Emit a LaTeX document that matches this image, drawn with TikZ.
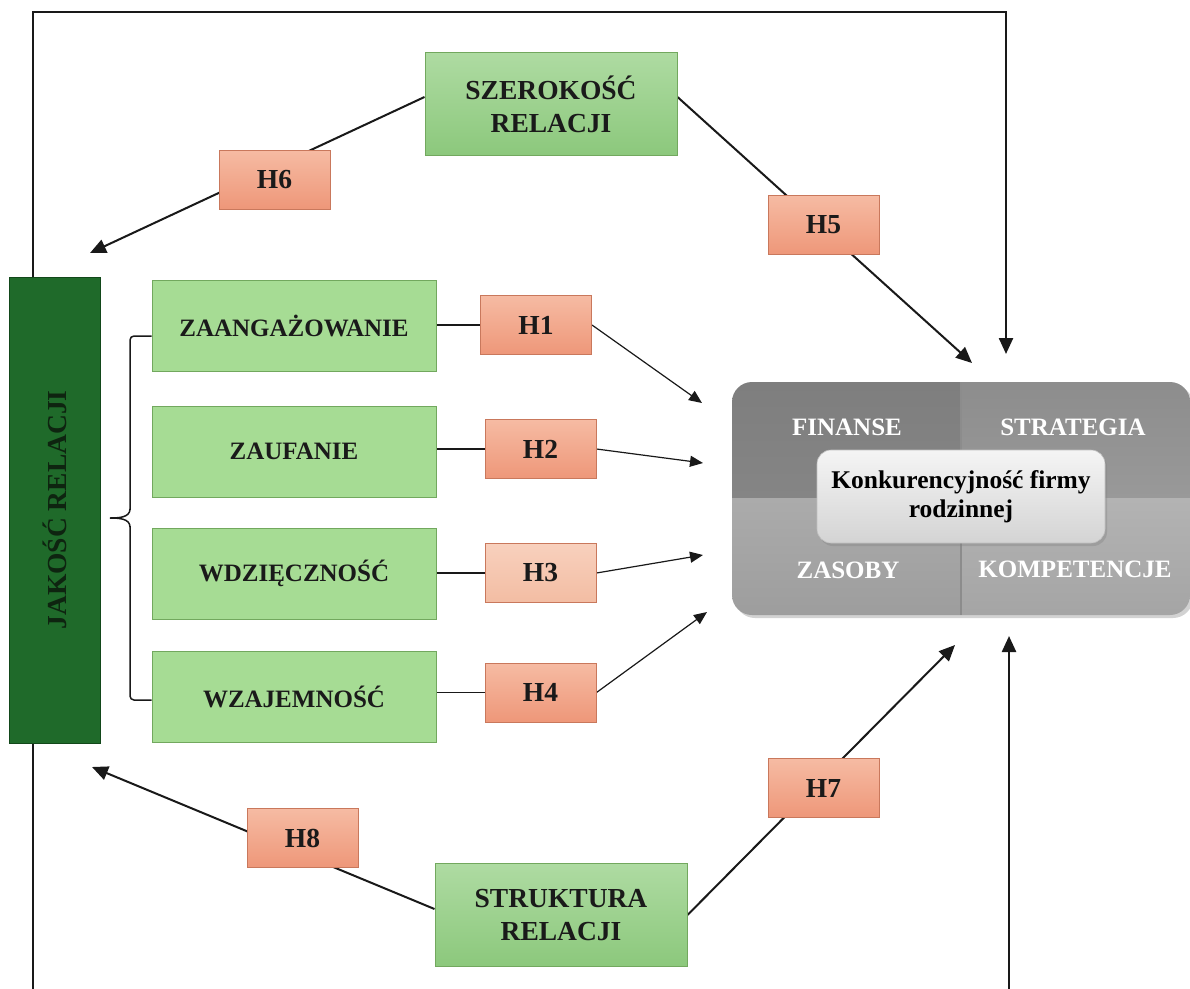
\documentclass[tikz,border=0pt]{standalone}
\usepackage{fontspec}
\setmainfont{Liberation Serif}
\usetikzlibrary{arrows.meta,shadows,calc}
\pgfdeclarelayer{background}
\pgfdeclarelayer{canvas}
\pgfsetlayers{canvas,background,main}

\definecolor{lgfill}{HTML}{A6DC94}
\definecolor{lgline}{HTML}{72A85E}
\definecolor{mgtop}{HTML}{AEDBA2}
\definecolor{mgbot}{HTML}{8CC87C}
\definecolor{dkfill}{HTML}{1F6A2A}
\definecolor{dkline}{HTML}{12481A}
\definecolor{dktext}{HTML}{0E2410}
\definecolor{htop}{HTML}{F6BBA3}
\definecolor{hbot}{HTML}{EE9779}
\definecolor{hline}{HTML}{C9785C}
\definecolor{hlighttop}{HTML}{F8D0BD}
\definecolor{hlightbot}{HTML}{F3BDA3}
\definecolor{txt}{HTML}{1A1A1A}
\definecolor{qa}{HTML}{8C8C8C}
\definecolor{qb}{HTML}{999999}
\definecolor{qc}{HTML}{ABABAB}
\definecolor{qd}{HTML}{B3B3B3}

\tikzset{
  x=1pt, y=-1pt,
  factor/.style={draw=lgline, fill=lgfill, line width=1pt,
    minimum width=284pt, minimum height=91pt, inner sep=0pt,
    font=\fontsize{25}{28}\selectfont\bfseries, text=txt},
  dimbox/.style={draw=lgline, top color=mgtop, bottom color=mgbot, line width=1pt,
    minimum width=252pt, minimum height=103pt, inner sep=0pt, align=center,
    font=\fontsize{27.5}{33}\selectfont\bfseries, text=txt},
  hyp/.style={draw=hline, top color=htop, bottom color=hbot, line width=1pt,
    minimum width=111pt, minimum height=59pt, inner sep=0pt,
    font=\fontsize{27.5}{30}\selectfont\bfseries, text=txt},
  hyplight/.style={hyp, top color=hlighttop, bottom color=hlightbot},
  quadlabel/.style={font=\fontsize{25}{28}\selectfont\bfseries, text=white},
  frameline/.style={line width=2.4pt, draw=black!90},
  bigarrow/.style={line width=2pt, draw=black!90,
    -{Triangle[length=16pt,width=14pt]}},
  smallarrow/.style={line width=1.2pt, draw=black!90,
    -{Triangle[length=13pt,width=11pt]}},
  link/.style={line width=1.5pt, draw=black!90},
}

\begin{document}
\begin{tikzpicture}
  \begin{pgfonlayer}{canvas}
    \fill[white] (0,0) rectangle (1190,988);
  \end{pgfonlayer}
  \useasboundingbox (0,0) rectangle (1190,988);

  % quality of relationship (vertical bar)
  \node[draw=dkline, fill=dkfill, line width=1pt, rotate=90,
        minimum width=466pt, minimum height=91pt, inner sep=0pt,
        font=\fontsize{27.5}{30}\selectfont\bfseries, text=dktext]
        (jak) at (54.5,510) {JAKOŚĆ RELACJI};

  % four dimensions of quality
  \node[factor] (z1) at (294,325.5) {ZAANGAŻOWANIE};
  \node[factor] (z2) at (294,451.5) {ZAUFANIE};
  \node[factor] (z3) at (294,573.5) {WDZIĘCZNOŚĆ};
  \node[factor] (z4) at (294,696.5) {WZAJEMNOŚĆ};

  % hypotheses
  \node[hyp] (h1) at (536,325) {H1};
  \node[hyp] (h2) at (540.5,449) {H2};
  \node[hyplight] (h3) at (540.5,573) {H3};
  \node[hyp] (h4) at (540.5,692.5) {H4};
  \node[hyp] (h5) at (823.5,225) {H5};
  \node[hyp] (h6) at (274.5,179.5) {H6};
  \node[hyp] (h7) at (823.5,788) {H7};
  \node[hyp] (h8) at (302.5,838) {H8};

  % breadth and structure of relationship
  \node[dimbox] (szer) at (551,104) {SZEROKOŚĆ\\RELACJI};
  \node[dimbox] (strk) at (561,915) {STRUKTURA\\RELACJI};

  % competitiveness block with four quadrants
  \node[rounded corners=20pt, minimum width=458pt, minimum height=233pt,
        inner sep=0pt,
        drop shadow={shadow xshift=3pt, shadow yshift=-3pt, opacity=0.35},
        path picture={
          \shade[sharp corners, top color=qa!90!black, bottom color=qa]
            (path picture bounding box.north west) rectangle (path picture bounding box.center);
          \shade[sharp corners, top color=qb!92!black, bottom color=qb]
            (path picture bounding box.north east) rectangle (path picture bounding box.center);
          \shade[sharp corners, top color=qc, bottom color=qc!92!black]
            (path picture bounding box.south west) rectangle (path picture bounding box.center);
          \shade[sharp corners, top color=qd, bottom color=qd!92!black]
            (path picture bounding box.south east) rectangle (path picture bounding box.center);
          \draw[sharp corners, line width=1.2pt, black!45]
            (path picture bounding box.north) -- (path picture bounding box.south);
        }] (comp) at (961,498.5) {};
  \node[quadlabel] (fin) at (847,427) {FINANSE};
  \node[quadlabel] (str) at (1073,427) {STRATEGIA};
  \node[quadlabel] (zas) at (848,570) {ZASOBY};
  \node[quadlabel] (kom) at (1075,569) {KOMPETENCJE};
  \node[rounded corners=14pt, draw=black!25, line width=0.6pt,
        top color=white!96!black, bottom color=black!17,
        minimum width=288pt, minimum height=93pt, inner sep=0pt,
        drop shadow={shadow xshift=2pt, shadow yshift=-3pt, opacity=0.35},
        align=center, font=\fontsize{25.5}{29}\selectfont\bfseries, text=black]
        (konk) at (961,496.5) {Konkurencyjność firmy\\rodzinnej};

  % free ends of the arrows
  \coordinate (tl) at (33,12);
  \coordinate (tr) at (1006,12);
  \coordinate (ttop) at (1006,354);
  \coordinate (bl) at (33,994);
  \coordinate (br) at (1009,994);
  \coordinate (tbot) at (1009,636);
  \coordinate (t1) at (702,403);
  \coordinate (t2) at (703,463);
  \coordinate (t3) at (703,555);
  \coordinate (t4) at (707,612);
  \coordinate (t5) at (972,363);
  \coordinate (t6) at (90,253);
  \coordinate (t7) at (955,645);
  \coordinate (t8) at (92,767);

  \begin{pgfonlayer}{background}
    % outer frame
    \draw[frameline, -{Triangle[length=16pt,width=14pt]}]
      (tl |- jak.east) -- (tl) -- (tr) -- (ttop);
    \draw[frameline] (tl |- jak.west) -- (bl);
    \draw[frameline, -{Triangle[length=16pt,width=14pt]}] (br) -- (tbot);

    % brace grouping the four dimensions
    \draw[link, rounded corners=4pt] (z1.west |- 0,336) -- (130,336) -- (130,510);
    \draw[link] (130,509) to[out=-90,in=0] (110,518);
    \draw[link, rounded corners=4pt] (z4.west |- 0,700) -- (130,700) -- (130,526);
    \draw[link] (130,527) to[out=90,in=0] (110,518);

    % dimensions to hypotheses
    \draw[link] (z1.east |- h1.west) -- (h1.west);
    \draw[link] (z2.east |- h2.west) -- (h2.west);
    \draw[link] (z3.east |- h3.west) -- (h3.west);
    \draw[link] (z4.east |- h4.west) -- (h4.west);

    % hypotheses to competitiveness
    \draw[smallarrow] (h1.east) -- (t1);
    \draw[smallarrow] (h2.east) -- (t2);
    \draw[smallarrow] (h3.east) -- (t3);
    \draw[smallarrow] (h4.east) -- (t4);

    % breadth and structure links
    \draw[bigarrow] ($(szer.east)+(0,-7)$) -- (t5);
    \draw[bigarrow] ($(szer.west)+(0,-7)$) -- (t6);
    \draw[bigarrow] (strk.east) -- (t7);
    \draw[bigarrow] ($(strk.west)+(0,-6)$) -- (t8);
  \end{pgfonlayer}
\end{tikzpicture}
\end{document}
